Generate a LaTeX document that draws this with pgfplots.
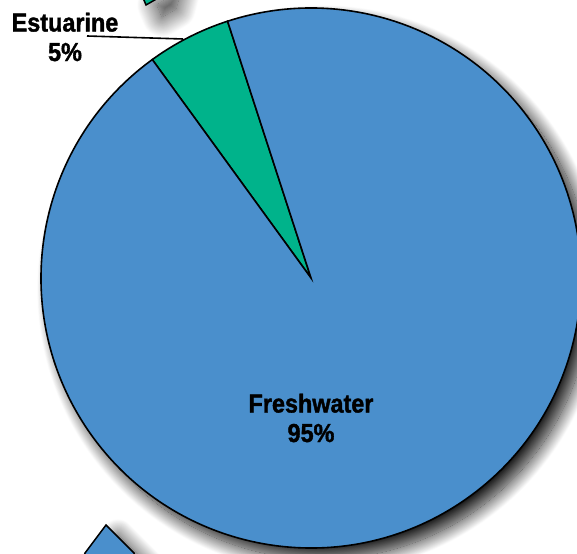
\documentclass[border=0pt]{standalone}
\usepackage{pgfplots}
\pgfplotsset{compat=1.18}
\usepackage{pgfplotstable}
\usetikzlibrary{shadows.blur}
\usepackage{fontspec}
\setmainfont{Liberation Sans}
\newfontfamily\lab{Liberation Sans Bold}[FakeBold=1.4,FakeStretch=0.9]
\definecolor{fresh}{HTML}{4A8FCC}
\definecolor{estu}{HTML}{00B38B}
\pgfplotstableread{
label value
Estuarine 5
Freshwater 95
}\piedata
\begin{document}
\begin{tikzpicture}
\begin{axis}[x=1pt,y=1pt,xmin=0,xmax=577,ymin=0,ymax=553,hide axis,clip=false]
\coordinate (BL) at (axis cs:0,0);
\coordinate (TR) at (axis cs:577,553);
\pgfplotstablegetelem{0}{value}\of\piedata \let\vE\pgfplotsretval
\pgfplotstablegetelem{1}{value}\of\piedata \let\vF\pgfplotsretval
\pgfmathsetmacro{\aS}{108}
\pgfmathsetmacro{\aM}{108+3.6*\vE}
\pgfmathsetmacro{\aT}{\aM+3.6*\vF}
% neighbouring fragments
\fill[estu,draw=black,line width=1.5pt,blur shadow={shadow xshift=16pt,shadow yshift=-12pt,shadow blur radius=20pt,shadow blur steps=25,shadow opacity=85}]
  (axis cs:141,560) -- (axis cs:146,548) -- (axis cs:160,556) -- (axis cs:165,575) -- cycle;
\fill[fresh,draw=black,line width=1.5pt,blur shadow={shadow xshift=12pt,shadow yshift=-10pt,shadow blur radius=16pt,shadow blur steps=25,shadow opacity=80}]
  (axis cs:106,28) -- (axis cs:134,0) -- (axis cs:134,-20) -- (axis cs:78,-20) -- (axis cs:85,0) -- cycle;
% shadow of the pie
\path[fill=white,blur shadow={shadow xshift=10pt,shadow yshift=-11pt,shadow blur radius=14pt,shadow blur steps=25,shadow opacity=90}]
  (axis cs:311,275) circle[radius=270pt];
\filldraw[fill=estu,draw=black,line width=1.6pt] (axis cs:311,275) -- ++(\aS:270pt) arc[start angle=\aS,end angle=\aM,radius=270pt] -- cycle;
\filldraw[fill=fresh,draw=black,line width=1.6pt] (axis cs:311,275) -- ++(\aM:270pt) arc[start angle=\aM,end angle=\aT,radius=270pt] -- cycle;
\draw[black,line width=1.6pt] (axis cs:87,517) -- (axis cs:183,514);
\node[font=\lab\fontsize{26}{29.5}\selectfont,align=center,inner sep=0pt] at (axis cs:65,516) {Estuarine\\5\%};
\node[font=\lab\fontsize{26}{29.5}\selectfont,align=center,inner sep=0pt] at (axis cs:311,135) {Freshwater\\95\%};
\end{axis}
\pgfresetboundingbox
\path[use as bounding box] (BL) rectangle (TR);
\end{tikzpicture}
\end{document}
